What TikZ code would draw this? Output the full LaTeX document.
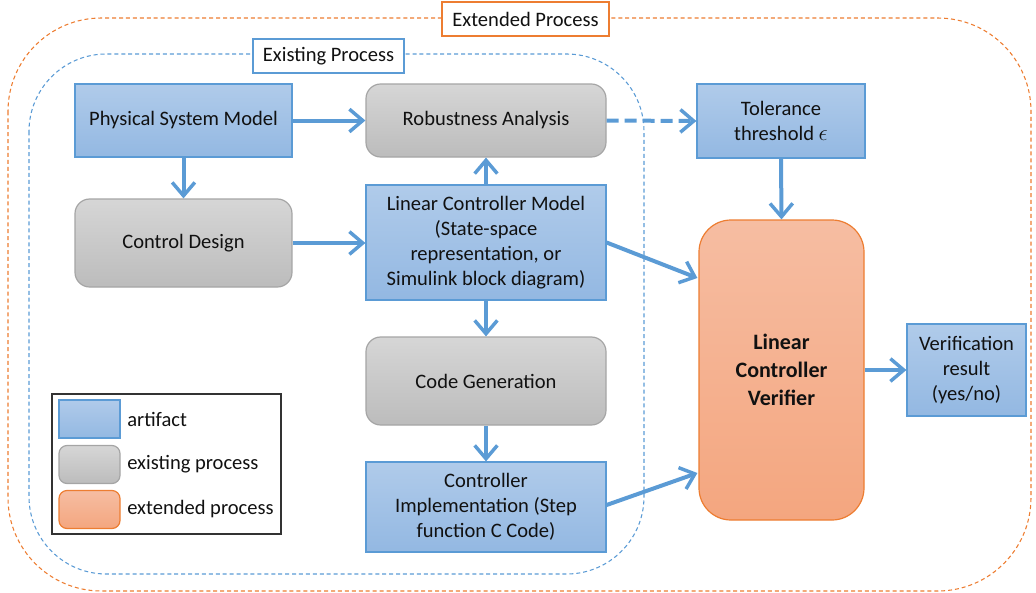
\documentclass[tikz,border=0pt]{standalone}
\usepackage{fontspec}
\setmainfont{Carlito}
\usetikzlibrary{arrows.meta,calc}
\definecolor{artB}{HTML}{5B9BD5}
\definecolor{artT}{HTML}{B0CBEA}
\definecolor{artD}{HTML}{93B8E2}
\definecolor{exB}{HTML}{A5A5A5}
\definecolor{exT}{HTML}{D6D6D6}
\definecolor{exD}{HTML}{BCBCBC}
\definecolor{xtB}{HTML}{ED7D31}
\definecolor{xtT}{HTML}{F6BDA2}
\definecolor{xtD}{HTML}{F4A67F}
\definecolor{arr}{HTML}{5B9BD5}
\definecolor{txt}{HTML}{111111}
\tikzset{
  txtfont/.style={font=\fontsize{15.4}{18.9}\selectfont, text=txt},
  artifact/.style={txtfont, draw=artB, line width=0.9pt, top color=artT, bottom color=artD, align=center, inner sep=2pt},
  existing/.style={txtfont, draw=exB, line width=0.9pt, top color=exT, bottom color=exD, rounded corners=11pt, align=center, inner sep=2pt},
  extended/.style={draw=xtB, line width=0.9pt, top color=xtT, bottom color=xtD, rounded corners=24pt, align=center},
  flow/.style={draw=arr, line width=3pt, -{Straight Barb[length=10pt,width=17pt,line width=2.6pt]}},
  grouplabel/.style={txtfont, fill=white, line width=0.9pt, inner sep=0pt},
  legtext/.style={txtfont, anchor=west, inner sep=0pt}
}
\begin{document}
\begin{tikzpicture}[x=0.75pt,y=-0.75pt]
\useasboundingbox (0,0) rectangle (1036,593);
% group outlines
\draw[xtB, line width=0.8pt, dash pattern=on 3pt off 2.2pt, rounded corners=70pt] (8,18) rectangle (1031,591);
\draw[artB, line width=0.8pt, dash pattern=on 3pt off 2.2pt, rounded corners=58pt] (29,54) rectangle (644,574);
\node[grouplabel, draw=xtB, minimum width=125.25pt, minimum height=25.5pt] (extlab) at (525.5,19) {Extended Process};
\node[grouplabel, draw=artB, minimum width=113.25pt, minimum height=25.5pt] (exilab) at (328.5,56) {Existing Process};
% nodes
\node[artifact, minimum width=162.75pt, minimum height=54.75pt] (psm) at (183.5,120.5) {Physical System Model};
\node[existing, minimum width=180pt, minimum height=54.75pt] (ra) at (486,120.5) {Robustness Analysis};
\node[artifact, minimum width=126pt, minimum height=55.5pt] (tt) at (781,121) {Tolerance\\threshold {\fontsize{19}{19}\selectfont$\epsilon$}};
\node[existing, minimum width=162.75pt, minimum height=66pt] (cd) at (183.5,243) {Control Design};
\node[artifact, minimum width=180pt, minimum height=86.25pt] (lcm) at (486,242.5) {Linear Controller Model\\(State-space\\representation, or\\Simulink block diagram)};
\node[existing, minimum width=180pt, minimum height=66pt] (cg) at (486,381) {Code Generation};
\node[artifact, minimum width=180pt, minimum height=67.5pt] (ci) at (486,507) {Controller\\Implementation (Step\\function C Code)};
\node[extended, minimum width=123.75pt, minimum height=225pt, font=\fontsize{16.5}{21}\selectfont\bfseries, text=txt] (lcv) at (781.5,370) {Linear\\Controller\\Verifier};
\node[artifact, minimum width=89.25pt, minimum height=69pt] (vr) at (966.5,370) {Verification\\result\\(yes/no)};
% arrows
\draw[flow] (psm.east) -- (ra.west);
\draw[flow] (psm.south) -- (cd.north);
\draw[flow] (cd.east) -- (cd.east -| lcm.west);
\draw[flow] (lcm.north) -- (ra.south);
\draw[flow] (lcm.east) -- ($(lcv.west)+(-1,-92)$);
\draw[flow] (lcm.south) -- (cg.north);
\draw[flow] (cg.south) -- (ci.north);
\draw[flow] ($(ci.east)+(0,-2)$) -- ($(lcv.west)+(-1,103)$);
\draw[flow, dash pattern=on 9pt off 4.5pt] (ra.east) -- (tt.west);
\draw[flow] (tt.south) -- (lcv.north);
\draw[flow] (lcv.east) -- (vr.west);
% legend
\node[draw=black!80, line width=1pt, minimum width=171.75pt, minimum height=105pt, inner sep=0pt] (leg) at (166.5,464) {};
\node[artifact, minimum width=45.75pt, minimum height=28.5pt] (sw1) at (89.5,419) {};
\node[existing, rounded corners=6pt, minimum width=45.75pt, minimum height=28.5pt] (sw2) at (89.5,464.5) {};
\node[extended, rounded corners=6pt, minimum width=45.75pt, minimum height=28.5pt] (sw3) at (89.5,509.5) {};
\node[legtext] (l1) at (127,419) {artifact};
\node[legtext] (l2) at (127,464.5) {existing process};
\node[legtext] (l3) at (127,509.5) {extended process};
\end{tikzpicture}
\end{document}
